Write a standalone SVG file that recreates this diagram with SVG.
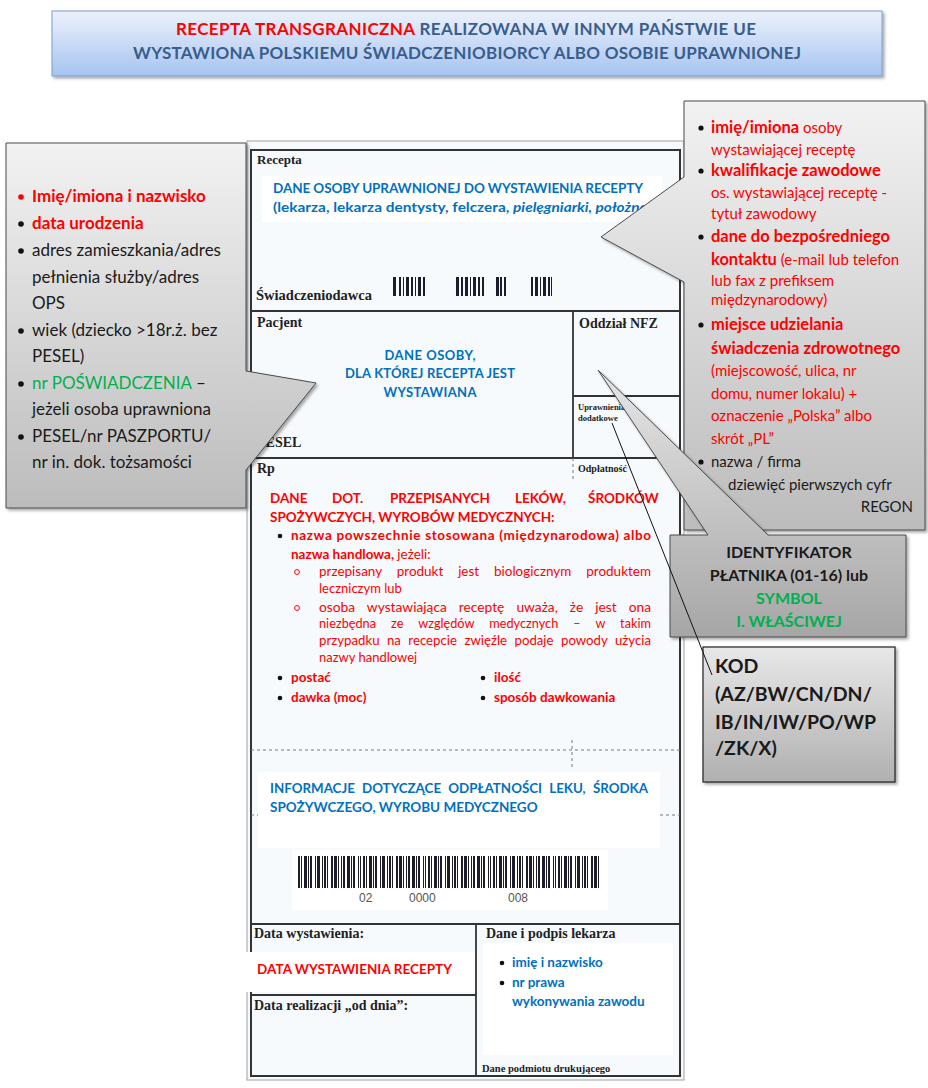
<svg xmlns="http://www.w3.org/2000/svg" width="928" height="1088" viewBox="0 0 928 1088">
<style>
.c{font-family:Lato,'Noto Sans','Liberation Sans',sans-serif}
.s{font-family:'Liberation Serif',serif;font-weight:bold;fill:#222}
.b{font-weight:bold}
.n{font-weight:normal}
.i{font-style:italic}
.red{fill:#ff0000}
.blue{fill:#0070c0}
.green{fill:#00b050}
.dk{fill:#1a1a1a}
.tb{fill:#3a5d8c}
.ln{stroke:#333;stroke-width:1.8;fill:none}
.dash{stroke:#777;stroke-width:1;stroke-dasharray:3 3;fill:none}
.box{stroke:#4a4a4a;stroke-width:1}
.dot{fill:#111}
.sub{fill:none;stroke:#ff0000;stroke-width:1}
</style>
<defs>
<linearGradient id="gTitle" x1="0" y1="0" x2="0" y2="1"><stop offset="0" stop-color="#ecf2fc"/><stop offset="1" stop-color="#a6c3f0"/></linearGradient>
<linearGradient id="gCall" x1="0" y1="0" x2="0" y2="1"><stop offset="0" stop-color="#f2f2f2"/><stop offset="1" stop-color="#bcbcbc"/></linearGradient>
<linearGradient id="gId" x1="0" y1="0" x2="0" y2="1"><stop offset="0" stop-color="#e6e6e6"/><stop offset="1" stop-color="#a6a6a6"/></linearGradient>
<linearGradient id="gKod" x1="0" y1="0" x2="0" y2="1"><stop offset="0" stop-color="#e8e8e8"/><stop offset="1" stop-color="#b0b0b0"/></linearGradient>
<filter id="sh" x="-10%" y="-10%" width="130%" height="130%"><feDropShadow dx="2" dy="2" stdDeviation="1.5" flood-color="#000" flood-opacity="0.35"/></filter>
<pattern id="bcp" x="298" y="856" width="65" height="32" patternUnits="userSpaceOnUse">
<g fill="#1c1c2a">
<rect x="0" y="0" width="2" height="32"/><rect x="3" y="0" width="1" height="32"/><rect x="6" y="0" width="3" height="32"/><rect x="10" y="0" width="1" height="32"/><rect x="12" y="0" width="2" height="32"/><rect x="17" y="0" width="1" height="32"/><rect x="19" y="0" width="3" height="32"/><rect x="24" y="0" width="1" height="32"/><rect x="26" y="0" width="2" height="32"/><rect x="29" y="0" width="1" height="32"/><rect x="33" y="0" width="2" height="32"/><rect x="36" y="0" width="3" height="32"/><rect x="40" y="0" width="1" height="32"/><rect x="43" y="0" width="1" height="32"/><rect x="45" y="0" width="2" height="32"/><rect x="49" y="0" width="3" height="32"/><rect x="53" y="0" width="1" height="32"/><rect x="55" y="0" width="2" height="32"/><rect x="60" y="0" width="1" height="32"/><rect x="62" y="0" width="1" height="32"/>
</g>
</pattern>
</defs>

<rect width="928" height="1088" fill="#ffffff"/>

<g id="title">
<rect x="52" y="11" width="830" height="65" fill="url(#gTitle)" stroke="#7b9bd1" filter="url(#sh)"/>
<text class="c b" x="466" y="35" font-size="17" text-anchor="middle" textLength="580"><tspan class="red">RECEPTA TRANSGRANICZNA</tspan><tspan class="tb"> REALIZOWANA W INNYM PAŃSTWIE UE</tspan></text>
<text class="c b tb" x="467" y="59" font-size="17" text-anchor="middle" textLength="668">WYSTAWIONA POLSKIEMU ŚWIADCZENIOBIORCY ALBO OSOBIE UPRAWNIONEJ</text>
</g>

<g id="form">
<rect x="247" y="141" width="437" height="939" fill="#f6fafd" stroke="#a0a0a0"/>
<rect x="262" y="176" width="400" height="46" fill="#ffffff"/>
<rect x="258" y="772" width="402" height="76" fill="#ffffff"/>
<rect x="292" y="850" width="316" height="60" fill="#ffffff"/>
<rect x="483" y="943" width="190" height="112" fill="#ffffff"/>
<rect x="251" y="150" width="429" height="926" fill="none" stroke="#333" stroke-width="2"/>
<path class="ln" d="M251,311 H680 M251,458 H680 M573,311 V458 M573,396 H680 M251,924 H680 M476,924 V1076 M251,995 H476"/>
<path class="dash" d="M573,458 V480 M251,750 H680 M572,740 V770 M251,815 H258 M660,815 H680"/>
<rect x="246" y="952" width="229" height="40" fill="#ffffff"/>

<g id="sec-recepta">
<text class="s" x="257" y="164" font-size="13">Recepta</text>
<text class="c b blue" x="273" y="193" font-size="13.5" textLength="370">DANE OSOBY UPRAWNIONEJ DO WYSTAWIENIA RECEPTY</text>
<text class="c b blue" x="273" y="212" font-size="14" textLength="382" lengthAdjust="spacingAndGlyphs">(lekarza, lekarza dentysty, felczera, <tspan class="i">pielęgniarki, położnej</tspan>)</text>
<g fill="#1c1c2a">
<rect x="393" y="277" width="3" height="19"/><rect x="399" y="277" width="2" height="19"/><rect x="403" y="277" width="1" height="19"/><rect x="406" y="277" width="3" height="19"/><rect x="411" y="277" width="2" height="19"/><rect x="415" y="277" width="1" height="19"/><rect x="418" y="277" width="3" height="19"/><rect x="423" y="277" width="2" height="19"/>
<rect x="456" y="277" width="3" height="19"/><rect x="461" y="277" width="2" height="19"/><rect x="465" y="277" width="3" height="19"/><rect x="470" y="277" width="1" height="19"/><rect x="473" y="277" width="3" height="19"/><rect x="478" y="277" width="2" height="19"/><rect x="482" y="277" width="2" height="19"/>
<rect x="496" y="277" width="3" height="19"/><rect x="500" y="277" width="2" height="19"/><rect x="504" y="277" width="2" height="19"/>
<rect x="531" y="277" width="2" height="19"/><rect x="535" y="277" width="3" height="19"/><rect x="540" y="277" width="1" height="19"/><rect x="543" y="277" width="3" height="19"/><rect x="548" y="277" width="2" height="19"/><rect x="551" y="277" width="1" height="19"/>
</g>
<text class="s" x="256" y="300" font-size="14.5">Świadczeniodawca</text>
</g>

<g id="sec-pacjent">
<text class="s" x="257" y="327" font-size="14">Pacjent</text>
<text class="c b blue" x="430" y="360" font-size="13" text-anchor="middle" textLength="91">DANE OSOBY,</text>
<text class="c b blue" x="430" y="378" font-size="13" text-anchor="middle" textLength="170">DLA KTÓREJ RECEPTA JEST</text>
<text class="c b blue" x="430" y="397" font-size="13" text-anchor="middle" textLength="93">WYSTAWIANA</text>
<text class="s" x="257" y="447" font-size="14">PESEL</text>
<text class="s" x="579" y="328" font-size="14">Oddział NFZ</text>
<text class="s" x="578" y="410" font-size="8.5">Uprawnienia</text>
<text class="s" x="578" y="421" font-size="8.5">dodatkowe</text>
</g>

<g id="sec-rp">
<text class="s" x="257" y="473" font-size="14">Rp</text>
<text class="s" x="578" y="472" font-size="10">Odpłatność</text>
<text class="c b red" y="503" font-size="13.5"><tspan x="270">DANE</tspan><tspan x="332">DOT.</tspan><tspan x="390">PRZEPISANYCH</tspan><tspan x="515">LEKÓW,</tspan><tspan x="588">ŚRODKÓW</tspan></text>
<text class="c b red" x="270" y="522" font-size="13.5">SPOŻYWCZYCH, WYROBÓW MEDYCZNYCH:</text>
<circle class="dot" cx="280" cy="536" r="2.3"/>
<text class="c b red" x="291" y="540" font-size="13.5" textLength="360">nazwa powszechnie stosowana (międzynarodowa) albo</text>
<text class="c b red" x="291" y="559" font-size="13.5">nazwa handlowa, <tspan class="n">jeżeli:</tspan></text>
<circle class="sub" cx="297" cy="572" r="2.4"/>
<text class="c red" x="319" y="576" font-size="13" word-spacing="11" textLength="332" lengthAdjust="spacingAndGlyphs">przepisany produkt jest biologicznym produktem</text>
<text class="c red" x="319" y="593" font-size="13">leczniczym lub</text>
<circle class="sub" cx="297" cy="608" r="2.4"/>
<text class="c red" x="319" y="612" font-size="13" word-spacing="8" textLength="332" lengthAdjust="spacingAndGlyphs">osoba wystawiająca receptę uważa, że jest ona</text>
<text class="c red" x="319" y="628" font-size="13" word-spacing="12" textLength="332" lengthAdjust="spacingAndGlyphs">niezbędna ze względów medycznych – w takim</text>
<text class="c red" x="319" y="645" font-size="13" word-spacing="4" textLength="332" lengthAdjust="spacingAndGlyphs">przypadku na recepcie zwięźle podaje powody użycia</text>
<text class="c red" x="319" y="662" font-size="13">nazwy handlowej</text>
<circle class="dot" cx="280" cy="678" r="2.3"/>
<text class="c b red" x="291" y="682" font-size="13.5">postać</text>
<circle class="dot" cx="483" cy="678" r="2.3"/>
<text class="c b red" x="494" y="682" font-size="13.5">ilość</text>
<circle class="dot" cx="280" cy="698" r="2.3"/>
<text class="c b red" x="291" y="702" font-size="13.5">dawka (moc)</text>
<circle class="dot" cx="483" cy="698" r="2.3"/>
<text class="c b red" x="494" y="702" font-size="13.5">sposób dawkowania</text>
</g>

<g id="sec-odplatnosc">
<text class="c b blue" x="270" y="793" font-size="13.5" word-spacing="4" textLength="378" lengthAdjust="spacingAndGlyphs">INFORMACJE DOTYCZĄCE ODPŁATNOŚCI LEKU, ŚRODKA</text>
<text class="c b blue" x="270" y="812" font-size="13.5">SPOŻYWCZEGO, WYROBU MEDYCZNEGO</text>
<rect x="298" y="856" width="303" height="32" fill="url(#bcp)"/>
<g font-family="'Liberation Sans',Arial,sans-serif" font-size="12" fill="#555">
<text x="359" y="902">02</text><text x="409" y="902">0000</text><text x="508" y="902">008</text>
</g>
</g>

<g id="sec-daty">
<text class="s" x="254" y="938" font-size="14">Data wystawienia:</text>
<text class="c b red" x="257" y="974" font-size="13.5" textLength="195">DATA WYSTAWIENIA RECEPTY</text>
<text class="s" x="254" y="1010" font-size="14">Data realizacji „od dnia”:</text>
</g>

<g id="sec-lekarz">
<text class="s" x="486" y="938" font-size="14">Dane i podpis lekarza</text>
<circle class="dot" cx="502" cy="963" r="2.3"/>
<text class="c b blue" x="512" y="967" font-size="13.5">imię i nazwisko</text>
<circle class="dot" cx="502" cy="983" r="2.3"/>
<text class="c b blue" x="512" y="987" font-size="13.5">nr prawa</text>
<text class="c b blue" x="512" y="1006" font-size="13.5">wykonywania zawodu</text>
<text class="s" x="482" y="1072" font-size="10.5">Dane podmiotu drukującego</text>
</g>
</g>

<g id="callout-pacjent">
<path d="M6,143 H246 V371 L316,383 L246,470 V508 H6 Z" fill="url(#gCall)" class="box" filter="url(#sh)"/>
<g class="c" font-size="17">
<circle cx="21" cy="197" r="2.8" fill="#ff0000"/>
<text class="b red" x="32" y="202">Imię/imiona i nazwisko</text>
<circle class="dot" cx="21" cy="224" r="2.8"/>
<text class="b red" x="32" y="229">data urodzenia</text>
<circle class="dot" cx="21" cy="251" r="2.8"/>
<text class="dk" x="32" y="256">adres zamieszkania/adres</text>
<text class="dk" x="32" y="283">pełnienia służby/adres</text>
<text class="dk" x="32" y="309">OPS</text>
<circle class="dot" cx="21" cy="331" r="2.8"/>
<text class="dk" x="32" y="336">wiek (dziecko &gt;18r.ż. bez</text>
<text class="dk" x="32" y="362">PESEL)</text>
<circle class="dot" cx="21" cy="384" r="2.8"/>
<text class="dk" x="32" y="389"><tspan class="green">nr POŚWIADCZENIA</tspan> –</text>
<text class="dk" x="32" y="415">jeżeli osoba uprawniona</text>
<circle class="dot" cx="21" cy="437" r="2.8"/>
<text class="dk" x="32" y="442">PESEL/nr PASZPORTU/</text>
<text class="dk" x="32" y="468">nr in. dok. tożsamości</text>
</g>
</g>

<g id="callout-wystawiajacy">
<path d="M684,101 H925 V530 H684 V282 L601,237 L684,177 Z" fill="url(#gCall)" class="box" filter="url(#sh)"/>
<g class="c red" font-size="15">
<circle class="dot" cx="701" cy="128" r="2.6"/>
<text x="711" y="133"><tspan class="b" font-size="16.5">imię/imiona</tspan> osoby</text>
<text x="711" y="155">wystawiającej receptę</text>
<circle class="dot" cx="701" cy="171" r="2.6"/>
<text class="b" x="711" y="176" font-size="16.5">kwalifikacje zawodowe</text>
<text x="711" y="198">os. wystawiającej receptę -</text>
<text x="711" y="219">tytuł zawodowy</text>
<circle class="dot" cx="701" cy="237" r="2.6"/>
<text class="b" x="711" y="242" font-size="16.5">dane do bezpośredniego</text>
<text x="711" y="265"><tspan class="b" font-size="16.5">kontaktu</tspan> (e-mail lub telefon</text>
<text x="711" y="286">lub fax z prefiksem</text>
<text x="711" y="305">międzynarodowy)</text>
<circle class="dot" cx="701" cy="325" r="2.6"/>
<text class="b" x="711" y="330" font-size="16.5">miejsce udzielania</text>
<text class="b" x="711" y="354" font-size="16.5">świadczenia zdrowotnego</text>
<text x="711" y="376">(miejscowość, ulica, nr</text>
<text x="711" y="399">domu, numer lokalu) +</text>
<text x="711" y="421">oznaczenie „Polska” albo</text>
<text x="711" y="444">skrót „PL”</text>
<circle class="dot" cx="701" cy="462" r="2.6"/>
<text class="dk" x="711" y="467">nazwa / firma</text>
<text class="dk" x="728" y="490">dziewięć pierwszych cyfr</text>
<text class="dk" x="913" y="512" text-anchor="end">REGON</text>
</g>
</g>

<g id="callout-identyfikator">
<path d="M670,535 H708 L598,370 L768,535 H906 V637 H670 Z" fill="url(#gId)" class="box" filter="url(#sh)"/>
<g class="c b" font-size="16" text-anchor="middle">
<text class="dk" x="789" y="558">IDENTYFIKATOR</text>
<text class="dk" x="789" y="581">PŁATNIKA (01-16) lub</text>
<text class="green" x="789" y="604">SYMBOL</text>
<text class="green" x="789" y="627">I. WŁAŚCIWEJ</text>
</g>
</g>

<g id="callout-kod">
<rect x="703" y="647" width="192" height="135" fill="url(#gKod)" stroke="#222" stroke-width="1.2" filter="url(#sh)"/>
<g class="c b dk" font-size="19.5">
<text x="715" y="673">KOD</text>
<text x="715" y="701">(AZ/BW/CN/DN/</text>
<text x="715" y="729">IB/IN/IW/PO/WP</text>
<text x="715" y="755">/ZK/X)</text>
</g>
</g>

<g id="connectors">
<line x1="612" y1="423" x2="712" y2="675" stroke="#111" stroke-width="1"/>
</g>
</svg>
